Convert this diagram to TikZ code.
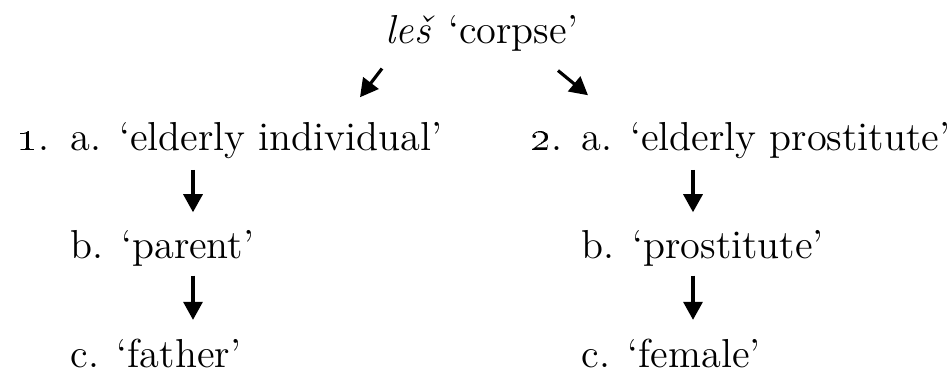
\documentclass[tikz,border=0pt]{standalone}
\usetikzlibrary{arrows.meta}

\begin{document}
\begin{tikzpicture}[
  gloss/.style={anchor=base west, inner sep=0pt, font=\fontsize{11.5}{14}\selectfont},
  arrow/.style={-{Triangle[length=1.8mm, width=1.9mm]}, line width=0.9pt}
]
  \useasboundingbox (0,0) rectangle (9.47,3.75);
  % top: source word
  \node[gloss, anchor=base] (src) at (4.82, 3.31) {\textit{leš} ‘corpse’};
  % left branch
  \node[gloss] (n1) at (0.17, 2.25) {\oldstylenums{1}.};
  \node[gloss] (a1) at (0.70, 2.25) {a. ‘elderly individual’};
  \node[gloss] (b1) at (0.70, 1.17) {b. ‘parent’};
  \node[gloss] (c1) at (0.70, 0.08) {c. ‘father’};
  % right branch
  \node[gloss] (n2) at (5.30, 2.25) {\oldstylenums{2}.};
  \node[gloss] (a2) at (5.81, 2.25) {a. ‘elderly prostitute’};
  \node[gloss] (b2) at (5.81, 1.17) {b. ‘prostitute’};
  \node[gloss] (c2) at (5.81, 0.08) {c. ‘female’};
  % split arrows
  \draw[arrow] ([xshift=-10mm, yshift=-1.6mm]src.south) -- ([xshift=29mm, yshift=2.4mm]a1.north west);
  \draw[arrow] ([xshift=7.6mm, yshift=-1.8mm]src.south) -- ([xshift=0.7mm, yshift=2.6mm]a2.north west);
  % chains
  \draw[arrow, shorten <=1.1mm, shorten >=1.7mm] ([xshift=12.3mm]a1.south west) -- ([xshift=12.3mm]b1.north west);
  \draw[arrow, shorten <=0.9mm, shorten >=1.8mm] ([xshift=12.3mm]b1.south west) -- ([xshift=12.3mm]c1.north west);
  \draw[arrow, shorten <=1.1mm, shorten >=1.7mm] ([xshift=11.2mm]a2.south west) -- ([xshift=11.2mm]b2.north west);
  \draw[arrow, shorten <=0.9mm, shorten >=1.8mm] ([xshift=11.2mm]b2.south west) -- ([xshift=11.2mm]c2.north west);
\end{tikzpicture}
\end{document}
